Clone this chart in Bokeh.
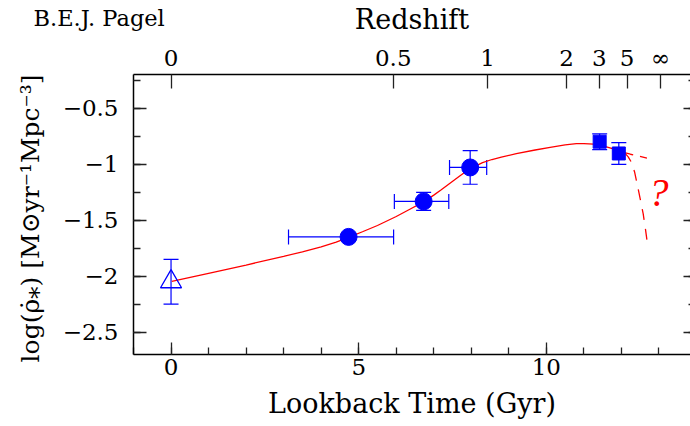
import numpy as np
from bokeh.plotting import figure
from bokeh.models import (Range1d, LinearAxis, FixedTicker, Whisker, ColumnDataSource, Title,
                          TeeHead, CustomLabelingPolicy)
from bokeh.core.properties import value
from bokeh.embed import file_html
from bokeh.resources import INLINE

# ---------------- data ----------------
y_ticks = [-2.5, -2.0, -1.5, -1.0, -0.5]
y_tick_labels = ["−2.5", "−2", "−1.5", "−1", "−0.5"]
x_ticks = [0, 5, 10]
redshift_labels = ["0", "0.5", "1", "2", "3", "5", "∞"]
redshift_lookback = [0.0, 5.92, 8.43, 10.54, 11.41, 12.15, 13.04]

tri_t = [0.0]
tri_y = [-2.05]
tri_yerr = [0.2]

circ_t = [4.73, 6.73, 7.97]
circ_y = [-1.65, -1.333, -1.03]
circ_tlo = [3.13, 5.95, 7.42]
circ_thi = [5.93, 7.40, 8.41]
circ_yerr = [0.0, 0.08, 0.15]

sq_t = [11.42, 11.93]
sq_y = [-0.80, -0.905]
sq_yerr = [0.07, 0.097]

model_t = [0.02, 1.0, 2.0, 3.0, 3.5, 4.0, 4.4, 4.73, 5.1, 5.5, 6.0, 6.35, 6.73, 7.0, 7.2,
           7.45, 7.7, 7.85, 8.0, 8.15, 8.3, 8.55, 8.8, 9.2, 9.7, 10.1, 10.5, 10.8, 11.0,
           11.26, 11.6, 11.9, 12.08]
model_y = [-2.047, -1.975, -1.901, -1.823, -1.783, -1.738, -1.696, -1.655, -1.604, -1.548,
           -1.468, -1.405, -1.337, -1.277, -1.229, -1.166, -1.104, -1.069, -1.038, -1.011,
           -0.987, -0.959, -0.937, -0.907, -0.874, -0.850, -0.828, -0.8175, -0.8165,
           -0.822, -0.846, -0.876, -0.898]

upper_t = [12.08, 12.24, 12.45, 12.68]
upper_y = [-0.898, -0.912, -0.928, -0.946]

lower_t = [12.08, 12.18, 12.27, 12.35, 12.42, 12.50, 12.58, 12.64, 12.70]
lower_y = [-0.898, -0.935, -0.986, -1.07, -1.18, -1.31, -1.445, -1.58, -1.73]

question_t = [12.99]
question_y = [-1.255]
question_text = ["?"]

author = "B.E.J. Pagel"
x_label = "Lookback Time (Gyr)"
top_label = "Redshift"
y_label = "log(ρ̇⁎)  [M⊙yr⁻¹Mpc⁻³]"

# ---------------- figure ----------------
FONT = "DejaVu Serif"
BLUE = "#0000ff"
RED = "#ff0000"

p = figure(width=690, height=426, output_backend="svg", toolbar_location=None,
           x_range=Range1d(-1.0, 13.84), y_range=Range1d(-2.7, -0.2),
           min_border_left=133, min_border_right=0, min_border_top=74, min_border_bottom=72,
           x_axis_location=None, y_axis_location=None, title_location=None)
p.outline_line_color = None
p.xgrid.visible = False
p.ygrid.visible = False


def style_axis(ax, tick_in, minor_in):
    ax.axis_line_color = "black"
    ax.axis_line_width = 1.5
    ax.major_tick_line_color = "#222222"
    ax.minor_tick_line_color = "#222222"
    ax.major_tick_line_width = 1.3
    ax.minor_tick_line_width = 1.3
    ax.major_tick_in = tick_in
    ax.major_tick_out = 0
    ax.minor_tick_in = minor_in
    ax.minor_tick_out = 0
    ax.major_label_text_font = FONT
    ax.major_label_text_font_size = "23px"
    ax.major_label_text_color = "black"
    ax.axis_label_text_font = FONT
    ax.axis_label_text_font_size = "27px"
    ax.axis_label_text_font_style = "normal"
    ax.axis_label_text_color = "black"


y_minor = list(np.arange(-2.75, 0.0, 0.25))
x_minor = list(range(-1, 14))

bottom = LinearAxis(ticker=FixedTicker(ticks=x_ticks, minor_ticks=x_minor), axis_label=x_label)
style_axis(bottom, 12, 7)
bottom.major_label_standoff = 4
bottom.axis_label_standoff = 10
p.add_layout(bottom, "below")

left = LinearAxis(ticker=FixedTicker(ticks=y_ticks, minor_ticks=y_minor), axis_label=y_label,
                  major_label_overrides=dict(zip(y_ticks, y_tick_labels)))
style_axis(left, 13, 7)
left.major_label_standoff = 15
left.axis_label_standoff = 15
left.axis_label_text_font_size = "25px"
p.add_layout(left, "left")

top = LinearAxis(ticker=FixedTicker(ticks=redshift_lookback, minor_ticks=[]), axis_label=top_label,
                 major_label_overrides=dict(zip(redshift_lookback, redshift_labels)))
style_axis(top, 14, 0)
top.minor_tick_line_color = None
top.major_label_standoff = 4
top.axis_label_standoff = 7
p.add_layout(top, "above")

right = LinearAxis(ticker=FixedTicker(ticks=y_ticks, minor_ticks=y_minor),
                   major_label_policy=CustomLabelingPolicy(code="return []"))
style_axis(right, 7, 2)
right.axis_line_color = None
right.major_label_text_font_size = "0px"
right.major_label_standoff = 0
p.add_layout(right, "right")

# author tag in the top-left corner (outermost "above" panel, no net height)
p.add_layout(Title(text=author, align="left", vertical_align="bottom", offset=-100, standoff=-60,
                   text_font=FONT, text_font_size="22.5px", text_font_style="normal",
                   text_color="black"), "above")

# ---------------- error bars ----------------
def tee():
    return TeeHead(size=15, line_color=BLUE, line_width=1.2)

tri_src = ColumnDataSource(dict(t=tri_t, y=tri_y,
                                lo=[a - b for a, b in zip(tri_y, tri_yerr)],
                                hi=[a + b for a, b in zip(tri_y, tri_yerr)]))
circ_src = ColumnDataSource(dict(t=circ_t, y=circ_y, tlo=circ_tlo, thi=circ_thi,
                                 lo=[a - b for a, b in zip(circ_y, circ_yerr)],
                                 hi=[a + b for a, b in zip(circ_y, circ_yerr)]))
sq_src = ColumnDataSource(dict(t=sq_t, y=sq_y,
                               lo=[a - b for a, b in zip(sq_y, sq_yerr)],
                               hi=[a + b for a, b in zip(sq_y, sq_yerr)]))

for src in (tri_src, circ_src, sq_src):
    p.add_layout(Whisker(source=src, base="t", lower="lo", upper="hi", dimension="height",
                         line_color=BLUE, line_width=1.2, upper_head=tee(), lower_head=tee()))
p.add_layout(Whisker(source=circ_src, base="y", lower="tlo", upper="thi", dimension="width",
                     line_color=BLUE, line_width=1.2, upper_head=tee(), lower_head=tee()))

# ---------------- model curves ----------------
p.line(model_t, model_y, line_color=RED, line_width=1.3)
p.line(upper_t, upper_y, line_color=RED, line_width=1.3, line_dash="9 7")
p.line(lower_t, lower_y, line_color=RED, line_width=1.3, line_dash="11 9")

# ---------------- markers ----------------
p.scatter(x="t", y="y", source=tri_src, marker="triangle", size=21,
          fill_color=None, line_color=BLUE, line_width=1.3)
p.scatter(x="t", y="y", source=circ_src, marker="circle", size=17,
          fill_color=BLUE, line_color=BLUE)
p.scatter(x="t", y="y", source=sq_src, marker="square", size=13,
          fill_color=BLUE, line_color=BLUE)

p.text(x=question_t, y=question_y, text=question_text, text_font=value("Liberation Serif"),
       text_font_style="italic", text_font_size="40px", text_color=RED,
       text_align="center", text_baseline="middle")

open("out.html", "w").write(file_html(p, INLINE))
